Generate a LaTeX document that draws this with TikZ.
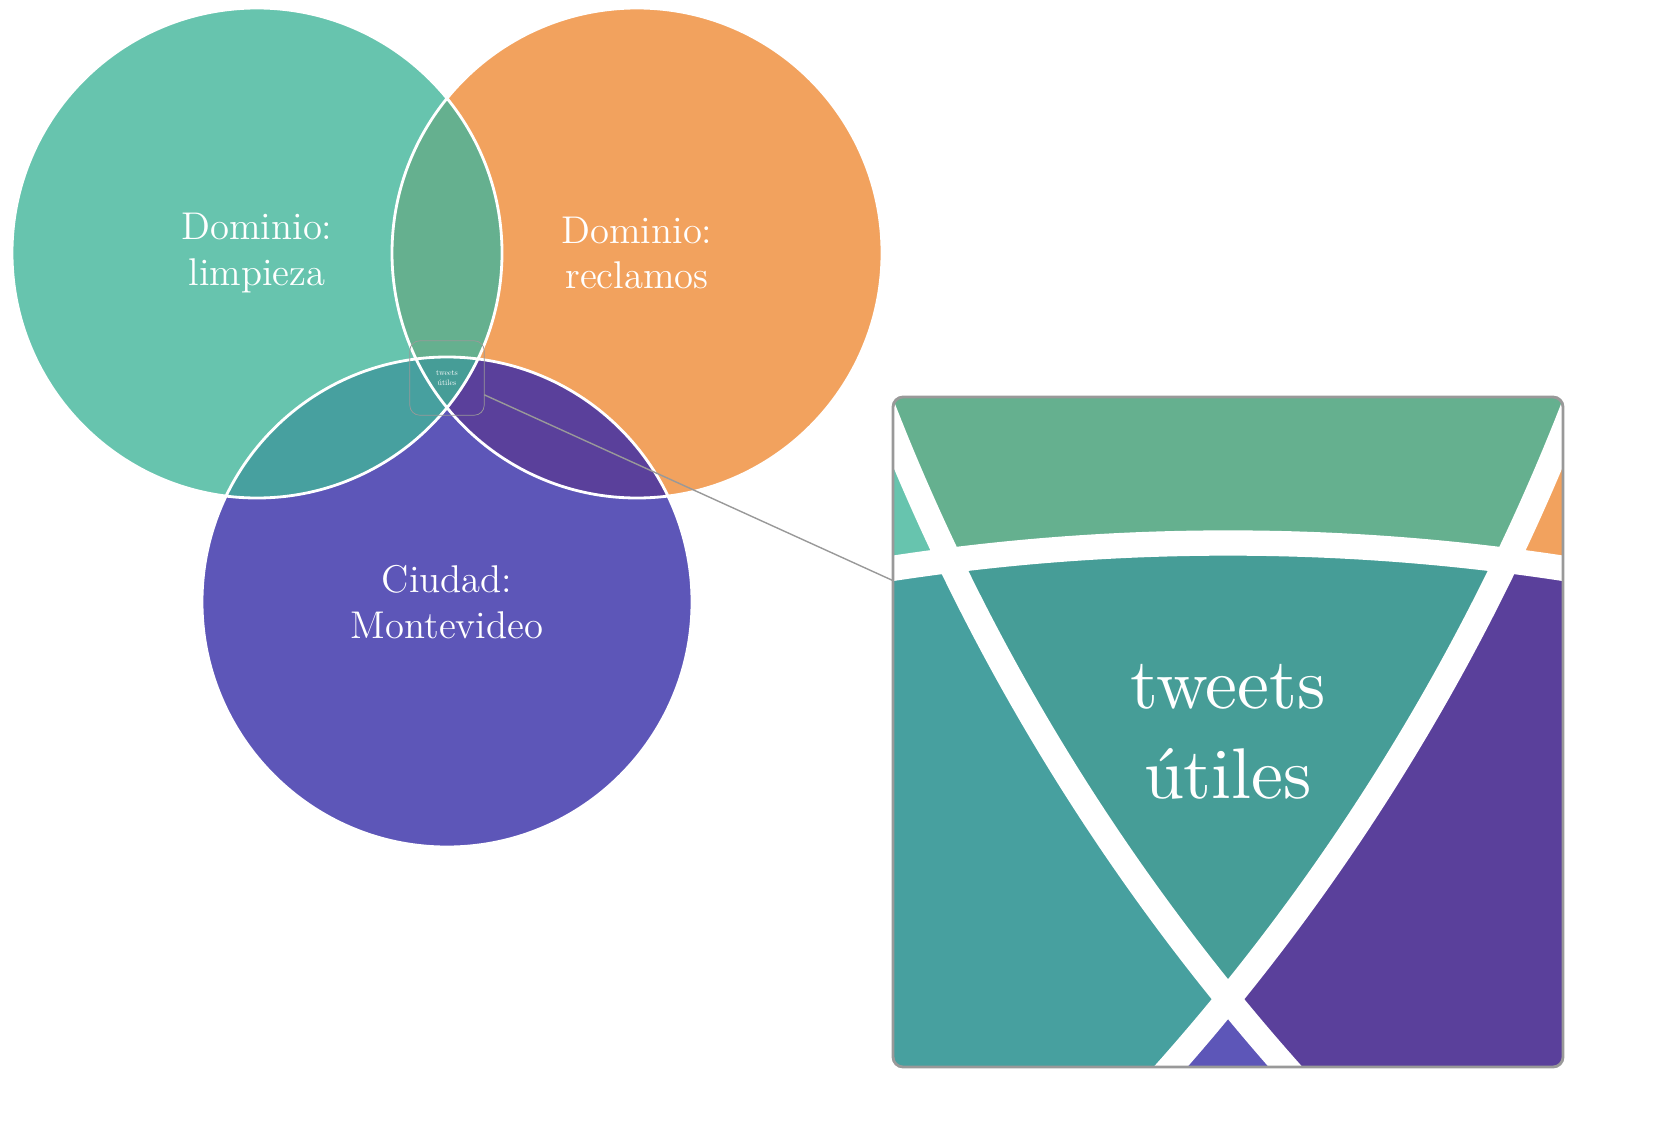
\documentclass[tikz,border=0pt]{standalone}
\usepackage{tikz}
\usetikzlibrary{spy, positioning}
\definecolor{vennteal}{RGB}{103, 196, 174}
\definecolor{vennorange}{RGB}{242, 162, 94}
\definecolor{vennpurple}{RGB}{93, 86, 184}
\definecolor{venngreen}{RGB}{101, 176, 143}
\definecolor{venncyan}{RGB}{71, 160, 159}
\definecolor{vennplum}{RGB}{90, 64, 155}
\definecolor{venncenter}{RGB}{70, 157, 151}
\begin{document}
\begin{tikzpicture}[setlabel/.style={text=white, align=center, font=\fontsize{11}{13}\selectfont}]
  \begin{scope}[spy using outlines={rectangle, gray!80, magnification=9, size=6.7cm, connect spies, rounded corners=1mm}]
    \coordinate (cA) at (2.57,-2.53);
    \coordinate (cB) at (6.37,-2.53);
    \coordinate (cC) at (4.47,-6.02);
    \def\circA{(cA) circle (2.45)}
    \def\circB{(cB) circle (2.45)}
    \def\circC{(cC) circle (2.45)}

    \fill[vennteal] \circA;
    \fill[vennorange] \circB;
    \fill[vennpurple] \circC;
    \begin{scope}
        \clip \circB;
        \fill[vennplum] \circC;
    \end{scope}
    \begin{scope}
        \clip \circA;
        \fill[venngreen] \circB;
        \fill[venncyan] \circC;
        \clip \circB;
        \fill[venncenter] \circC;
    \end{scope}
    \draw[white, line width=0.8pt] \circA \circB \circC;

    \node[setlabel] (limp) at (cA) {Dominio:\\limpieza};
    \node[setlabel] (recl) at (cB) {Dominio:\\reclamos};
    \node[setlabel] (mvd) at (cC) {Ciudad:\\Montevideo};
    \node[text=white, align=center, font=\fontsize{10}{12.5}\selectfont, scale=0.227, transform shape] (util) at (4.47,-3.78) {tweets\\útiles};

    \spy on (util.center) in node (inset) at (12.28,-7.32);
  \end{scope}
  \pgfresetboundingbox
  \useasboundingbox (0,0) rectangle (16.61,-11.29);
\end{tikzpicture}
\end{document}
